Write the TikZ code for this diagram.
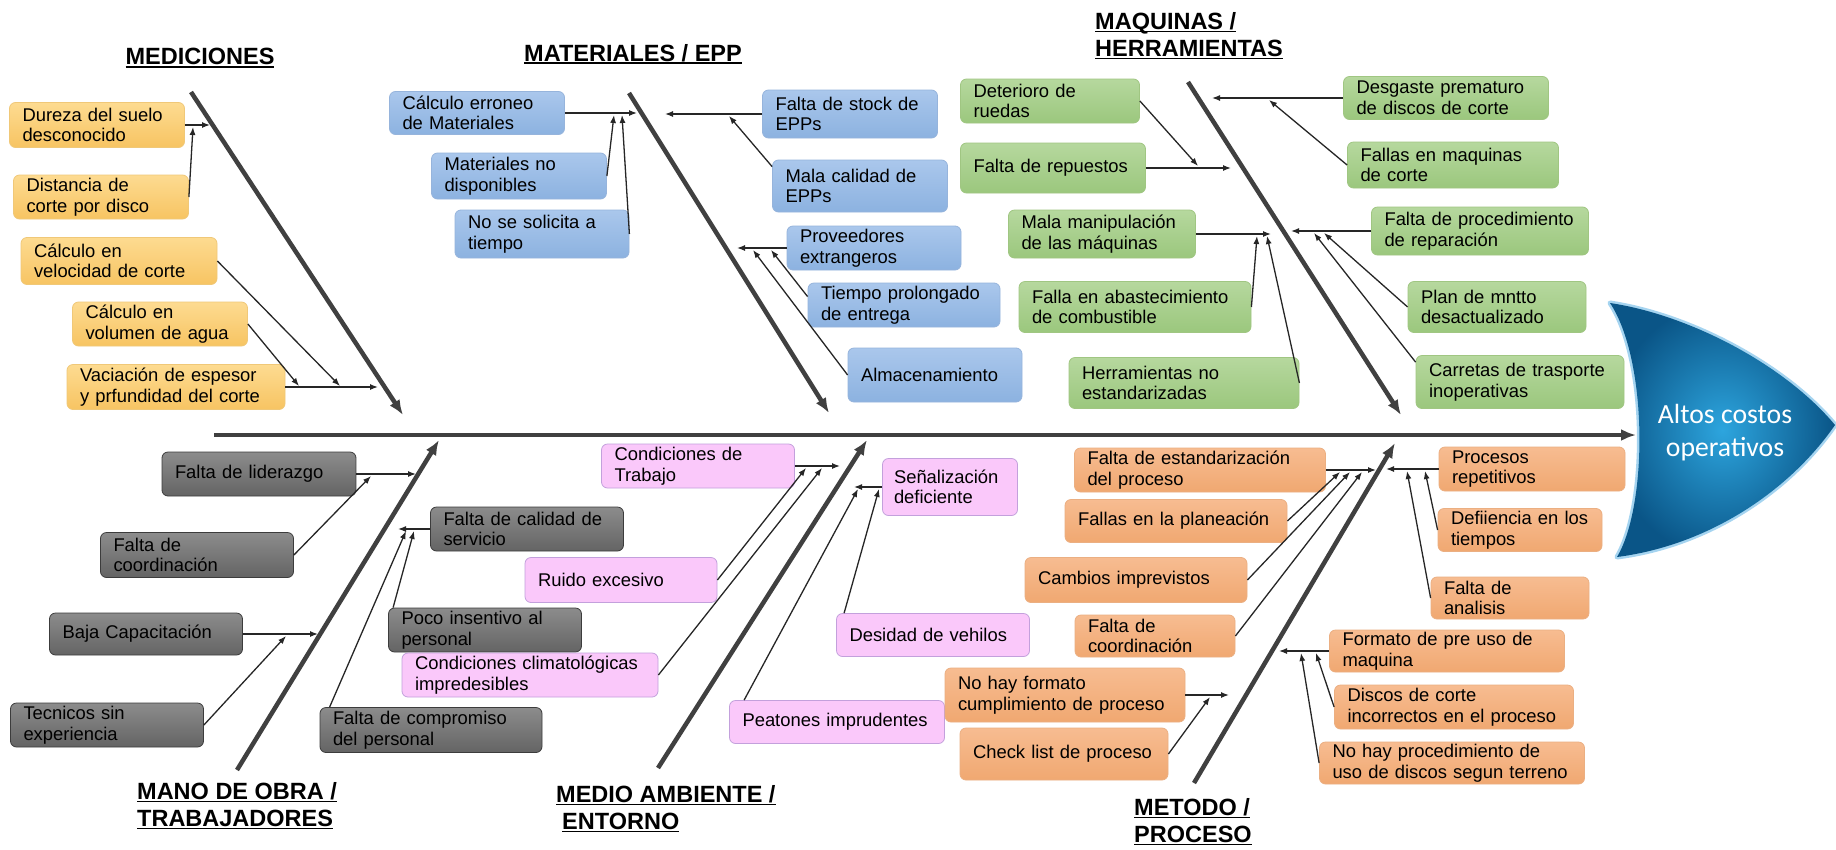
\documentclass[tikz,border=0pt]{standalone}
\usepackage{fontspec}
\setmainfont{Liberation Sans}
\newfontfamily\carlito{Carlito}
\usetikzlibrary{arrows.meta}

\definecolor{amaA}{RGB}{253,219,145}
\definecolor{amaB}{RGB}{247,196,98}
\definecolor{amaC}{RGB}{240,200,120}
\definecolor{azuA}{RGB}{170,199,236}
\definecolor{azuB}{RGB}{140,178,224}
\definecolor{azuC}{RGB}{150,180,220}
\definecolor{verA}{RGB}{182,216,158}
\definecolor{verB}{RGB}{155,199,125}
\definecolor{verC}{RGB}{160,198,130}
\definecolor{griA}{RGB}{140,140,140}
\definecolor{griB}{RGB}{100,100,100}
\definecolor{griC}{RGB}{60,60,60}
\definecolor{rosA}{RGB}{250,200,250}
\definecolor{rosC}{RGB}{195,160,220}
\definecolor{narA}{RGB}{247,188,145}
\definecolor{narB}{RGB}{240,168,113}
\definecolor{narC}{RGB}{235,175,130}
\definecolor{espC}{RGB}{64,64,64}
\definecolor{cabA}{RGB}{45,165,222}
\definecolor{cabB}{RGB}{10,85,135}
\definecolor{cabC}{RGB}{165,212,240}

\newcommand{\subrayado}[1]{\setbox0\hbox{#1}\rlap{\rule[-3pt]{\wd0}{1.7pt}}\box0}

\begin{document}
\begin{tikzpicture}[x=1pt, y=-1pt,
    caja/.style={rectangle, rounded corners=6pt, draw, line width=0.8pt, inner xsep=13pt, inner ysep=2pt, align=left, font=\fontsize{18.4}{20.5}\selectfont},
    amarillo/.style={caja, top color=amaA, bottom color=amaB, draw=amaC},
    azul/.style={caja, top color=azuA, bottom color=azuB, draw=azuC},
    verde/.style={caja, top color=verA, bottom color=verB, draw=verC},
    gris/.style={caja, top color=griA, bottom color=griB, draw=griC},
    rosa/.style={caja, fill=rosA, draw=rosC},
    naranja/.style={caja, top color=narA, bottom color=narB, draw=narC},
    titulo/.style={font=\fontsize{23.5}{27}\selectfont\bfseries, align=left, inner sep=0pt},
    espina/.style={draw=espC, line width=4.5pt, -{Latex[length=15pt,width=12pt]}},
    flecha/.style={draw=black!85, line width=1.3pt, -{Latex[length=8pt,width=6pt]}}]

    \useasboundingbox (0,0) rectangle (1836,849);
    \fill[white] (0,0) rectangle (1836,849);

    % cabeza
    \draw[cabC, line width=5pt, line join=round] (1610,303) .. controls (1690,315) and (1785,365) .. (1835,425) .. controls (1790,490) and (1710,545) .. (1617,557) .. controls (1648,505) and (1648,360) .. cycle;
    \shade[inner color=cabA, outer color=cabB] (1610,303) .. controls (1690,315) and (1785,365) .. (1835,425) .. controls (1790,490) and (1710,545) .. (1617,557) .. controls (1648,505) and (1648,360) .. cycle;
    \node[font=\carlito\fontsize{27.7}{33}\selectfont, text=white, align=center] at (1725,433) (EFE) {Altos costos\\operativos};

    % espinas
    \coordinate (COLA) at (214,435);
    \coordinate (PUNTA) at (1636,435);
    \coordinate (MEDa) at (191,92);
    \coordinate (MEDb) at (403,415);
    \coordinate (MATa) at (629,93);
    \coordinate (MATb) at (829,413);
    \coordinate (MAQa) at (1188,82);
    \coordinate (MAQb) at (1401,415);
    \coordinate (MANa) at (237,770);
    \coordinate (MANb) at (439,440);
    \coordinate (AMBa) at (658,768);
    \coordinate (AMBb) at (867,440);
    \coordinate (METa) at (1194,783);
    \coordinate (METb) at (1395,443);
    \draw[espina] (COLA) -- (PUNTA);
    \draw[espina] (MEDa) -- (MEDb);
    \draw[espina] (MATa) -- (MATb);
    \draw[espina] (MAQa) -- (MAQb);
    \draw[espina] (MANa) -- (MANb);
    \draw[espina] (AMBa) -- (AMBb);
    \draw[espina] (METa) -- (METb);

    % titulos
    \node[titulo] at (200,58) (TMED) {\subrayado{MEDICIONES}};
    \node[titulo] at (633,54) (TMAT) {\subrayado{MATERIALES / EPP}};
    \node[titulo, anchor=north west] at (1095,12) (TMAQ) {\subrayado{MAQUINAS /}\\\subrayado{HERRAMIENTAS}};
    \node[titulo, anchor=north west] at (137,782) (TMAN) {\subrayado{MANO DE OBRA /}\\\subrayado{TRABAJADORES}};
    \node[titulo, anchor=north west] at (556,785) (TAMB) {\subrayado{MEDIO AMBIENTE /}\\\hspace*{6pt}\subrayado{ENTORNO}};
    \node[titulo, anchor=north west] at (1134,798) (TMET) {\subrayado{METODO /}\\\subrayado{PROCESO}};

    % mediciones
    \node[amarillo, text width=149pt, minimum height=45pt] at (97,125) (DUR) {Dureza del suelo\\desconocido};
    \node[amarillo, text width=149pt, minimum height=44pt] at (101,197) (DIS) {Distancia de\\corte por disco};
    \node[amarillo, text width=170pt, minimum height=47pt] at (119,261) (VEL) {Cálculo en\\velocidad de corte};
    \node[amarillo, text width=149pt, minimum height=44pt] at (160,324) (VOL) {Cálculo en\\volumen de agua};
    \node[amarillo, text width=192pt, minimum height=45pt] at (176,387) (VAC) {Vaciación de espesor\\y prfundidad del corte};

    % materiales
    \node[azul, text width=149pt, minimum height=43pt] at (477,113) (CAL) {Cálculo erroneo\\de Materiales};
    \node[azul, text width=149pt, minimum height=46pt] at (519,176) (MND) {Materiales no\\disponibles};
    \node[azul, text width=148pt, minimum height=48pt] at (542,234) (NSS) {No se solicita a\\tiempo};
    \node[azul, text width=149pt, minimum height=48pt] at (850,114) (FSE) {Falta de stock de\\EPPs};
    \node[azul, text width=149pt, minimum height=52pt] at (860,186) (MCE) {Mala calidad de\\EPPs};
    \node[azul, text width=148pt, minimum height=44pt] at (874,248) (PRO) {Proveedores\\extrangeros};
    \node[azul, text width=166pt, minimum height=44pt] at (904,305) (TPE) {Tiempo prolongado\\de entrega};
    \node[azul, text width=148pt, minimum height=54pt] at (935,375) (ALM) {Almacenamiento};

    % maquinas
    \node[verde, text width=153pt, minimum height=44pt] at (1050,101) (DET) {Deterioro de\\ruedas};
    \node[verde, text width=159pt, minimum height=50pt] at (1053,168) (REP) {Falta de repuestos};
    \node[verde, text width=161pt, minimum height=48pt] at (1102,234) (MAN) {Mala manipulación\\de las máquinas};
    \node[verde, text width=206pt, minimum height=51pt] at (1135,307) (ABA) {Falla en abastecimiento\\de combustible};
    \node[verde, text width=204pt, minimum height=51pt] at (1184,383) (HER) {Herramientas no\\estandarizadas};
    \node[verde, text width=179pt, minimum height=43pt] at (1446,98) (DES) {Desgaste prematuro\\de discos de corte};
    \node[verde, text width=185pt, minimum height=46pt] at (1453,165) (FMC) {Fallas en maquinas\\de corte};
    \node[verde, text width=191pt, minimum height=48pt] at (1480,231) (FPR) {Falta de procedimiento\\de reparación};
    \node[verde, text width=152pt, minimum height=51pt] at (1497,307) (PLA) {Plan de mntto\\desactualizado};
    \node[verde, text width=182pt, minimum height=53pt] at (1520,382) (CAR) {Carretas de trasporte\\inoperativas};

    % mano de obra
    \node[gris, text width=168pt, minimum height=44pt] at (259,474) (LID) {Falta de liderazgo};
    \node[gris, text width=167pt, minimum height=45pt] at (197,555) (COO) {Falta de\\coordinación};
    \node[gris, text width=167pt, minimum height=42pt] at (146,634) (BAJ) {Baja Capacitación};
    \node[gris, text width=167pt, minimum height=44pt] at (107,725) (TEC) {Tecnicos sin\\experiencia};
    \node[gris, text width=167pt, minimum height=44pt] at (527,529) (SER) {Falta de calidad de\\servicio};
    \node[gris, text width=167pt, minimum height=44pt] at (485,630) (INS) {Poco insentivo al\\personal};
    \node[gris, text width=196pt, minimum height=45pt] at (431,730) (COM) {Falta de compromiso\\del personal};

    % medio ambiente
    \node[rosa, text width=167pt, minimum height=44pt] at (698,466) (CTR) {Condiciones de\\Trabajo};
    \node[rosa, text width=166pt, minimum height=45pt] at (621,580) (RUI) {Ruido excesivo};
    \node[rosa, text width=230pt, minimum height=44pt] at (530,675) (CLI) {Condiciones climatológicas\\impredesibles};
    \node[rosa, text width=112pt, inner xsep=11.5pt, minimum height=57pt] at (950,487) (SEN) {Señalización\\deficiente};
    \node[rosa, text width=167pt, minimum height=43pt] at (933,635) (VEH) {Desidad de vehilos};
    \node[rosa, text width=189pt, minimum height=43pt] at (837,722) (PEA) {Peatones imprudentes};

    % metodo
    \node[naranja, text width=225pt, minimum height=44pt] at (1200,470) (EST) {Falta de estandarización\\del proceso};
    \node[naranja, text width=196pt, minimum height=43pt] at (1176,521) (PLN) {Fallas en la planeación};
    \node[naranja, text width=196pt, minimum height=45pt] at (1136,580) (CAM) {Cambios imprevistos};
    \node[naranja, text width=134pt, minimum height=42pt] at (1155,636) (CDN) {Falta de\\coordinación};
    \node[naranja, text width=214pt, minimum height=54pt] at (1065,695) (NHF) {No hay formato\\cumplimiento de proceso};
    \node[naranja, text width=182pt, minimum height=52pt] at (1064,754) (CHK) {Check list de proceso};
    \node[naranja, text width=160pt, minimum height=44pt] at (1532,469) (REPT) {Procesos\\repetitivos};
    \node[naranja, text width=138pt, minimum height=43pt] at (1520,530) (DEF) {Defiiencia en los\\tiempos};
    \node[naranja, text width=132pt, minimum height=42pt] at (1510,598) (ANA) {Falta de\\analisis};
    \node[naranja, text width=209pt, minimum height=42pt] at (1447,651) (FPU) {Formato de pre uso de\\maquina};
    \node[naranja, text width=213pt, minimum height=44pt] at (1454,707) (DIC) {Discos de corte\\incorrectos en el proceso};
    \node[naranja, text width=239pt, minimum height=42pt] at (1452,763) (NHP) {No hay procedimiento de\\uso de discos segun terreno};

    % puntas de flecha
    \coordinate (m1) at (210,125);
    \coordinate (m2) at (193,127);
    \coordinate (m3) at (340,386);
    \coordinate (m4) at (299,386);
    \coordinate (m5) at (378,387);
    \coordinate (a1) at (637,113);
    \coordinate (a2) at (614,115);
    \coordinate (a3) at (622,115);
    \coordinate (a4) at (665,114);
    \coordinate (a5) at (729,116);
    \coordinate (a6) at (737,248);
    \coordinate (a7) at (771,250);
    \coordinate (a8) at (753,250);
    \coordinate (q1) at (1231,168);
    \coordinate (q2) at (1198,166);
    \coordinate (q3) at (1212,98);
    \coordinate (q4) at (1269,100);
    \coordinate (q5) at (1271,234);
    \coordinate (q6) at (1257,236);
    \coordinate (q7) at (1267,236);
    \coordinate (q8) at (1291,231);
    \coordinate (q9) at (1324,233);
    \coordinate (q10) at (1314,233);
    \coordinate (o1) at (416,474);
    \coordinate (o2) at (371,476);
    \coordinate (o3) at (318,634);
    \coordinate (o4) at (286,636);
    \coordinate (o5) at (398,529);
    \coordinate (o6) at (414,531);
    \coordinate (o7) at (406,531);
    \coordinate (e1) at (840,466);
    \coordinate (e2) at (806,468);
    \coordinate (e3) at (822,468);
    \coordinate (e4) at (854,487);
    \coordinate (e5) at (879,489);
    \coordinate (e6) at (858,489);
    \coordinate (t1) at (1376,470);
    \coordinate (t2) at (1340,472);
    \coordinate (t3) at (1350,472);
    \coordinate (t4) at (1362,472);
    \coordinate (t5) at (1386,469);
    \coordinate (t6) at (1425,471);
    \coordinate (t7) at (1407,471);
    \coordinate (t8) at (1279,651);
    \coordinate (t9) at (1316,653);
    \coordinate (t10) at (1301,653);
    \coordinate (t11) at (1229,695);
    \coordinate (t12) at (1210,697);

    % flechas
    \draw[flecha] (DUR.east) -- (m1);
    \draw[flecha] (DIS.east) -- (m2);
    \draw[flecha] (VEL.east) -- (m3);
    \draw[flecha] (VOL.east) -- (m4);
    \draw[flecha] (VAC.east) -- (m5);

    \draw[flecha] (CAL.east) -- (a1);
    \draw[flecha] (MND.east) -- (a2);
    \draw[flecha] (NSS.east) -- (a3);
    \draw[flecha] (FSE.west) -- (a4);
    \draw[flecha] ([yshift=-7pt]MCE.north west) -- (a5);
    \draw[flecha] (PRO.west) -- (a6);
    \draw[flecha] ([yshift=-14pt]TPE.north west) -- (a7);
    \draw[flecha] (ALM.west) -- (a8);

    \draw[flecha] (REP.east) -- (q1);
    \draw[flecha] (DET.east) -- (q2);
    \draw[flecha] (DES.west) -- (q3);
    \draw[flecha] (FMC.west) -- (q4);
    \draw[flecha] (MAN.east) -- (q5);
    \draw[flecha] (ABA.east) -- (q6);
    \draw[flecha] (HER.east) -- (q7);
    \draw[flecha] (FPR.west) -- (q8);
    \draw[flecha] (PLA.west) -- (q9);
    \draw[flecha] ([yshift=-7pt]CAR.north west) -- (q10);

    \draw[flecha] (LID.east) -- (o1);
    \draw[flecha] (COO.east) -- (o2);
    \draw[flecha] (BAJ.east) -- (o3);
    \draw[flecha] (TEC.east) -- (o4);
    \draw[flecha] (SER.west) -- (o5);
    \draw[flecha] ([xshift=5pt]INS.north west) -- (o6);
    \draw[flecha] ([xshift=10pt]COM.north west) -- (o7);

    \draw[flecha] (CTR.east) -- (e1);
    \draw[flecha] (RUI.east) -- (e2);
    \draw[flecha] (CLI.east) -- (e3);
    \draw[flecha] (SEN.west) -- (e4);
    \draw[flecha] ([xshift=8pt]VEH.north west) -- (e5);
    \draw[flecha] ([xshift=15pt]PEA.north west) -- (e6);

    \draw[flecha] (EST.east) -- (t1);
    \draw[flecha] (PLN.east) -- (t2);
    \draw[flecha] (CAM.east) -- (t3);
    \draw[flecha] (CDN.east) -- (t4);
    \draw[flecha] (REPT.west) -- (t5);
    \draw[flecha] (DEF.west) -- (t6);
    \draw[flecha] (ANA.west) -- (t7);
    \draw[flecha] (FPU.west) -- (t8);
    \draw[flecha] (DIC.west) -- (t9);
    \draw[flecha] (NHP.west) -- (t10);
    \draw[flecha] (NHF.east) -- (t11);
    \draw[flecha] (CHK.east) -- (t12);

\end{tikzpicture}
\end{document}
